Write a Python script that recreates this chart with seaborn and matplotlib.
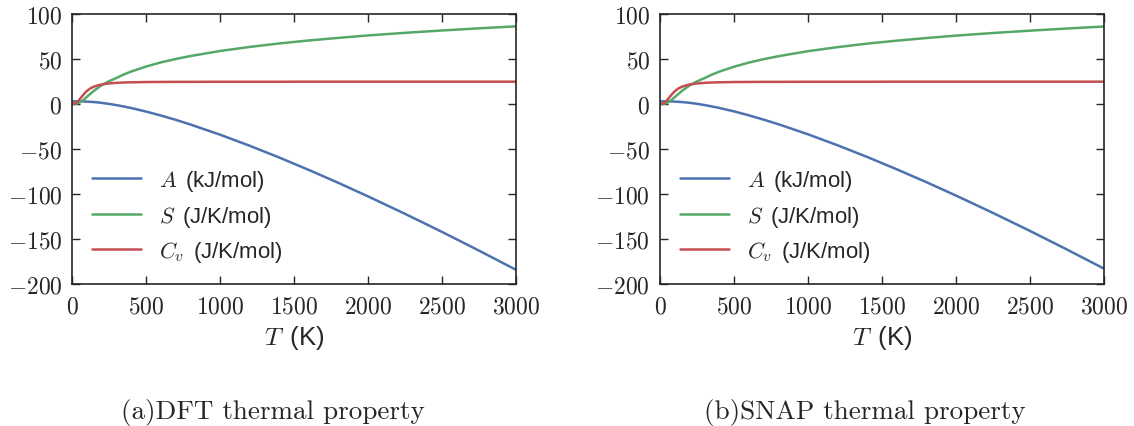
import matplotlib
matplotlib.use('Agg')
import matplotlib.pyplot as plt
import matplotlib.ticker as mticker
import seaborn as sns

# temperature grid (K)
T = [0, 20, 40, 60, 80, 100, 125, 150, 175, 200, 250, 300, 350, 400, 500, 600, 700, 800,
     1000, 1200, 1400, 1600, 1800, 2000, 2250, 2500, 2750, 3000]

# DFT
dft_A = [3.0, 3.0, 2.99, 2.96, 2.9, 2.75, 2.5, 2.2, 1.8, 1.35, 0.2, -1.15, -2.7, -4.4, -8.3, -12.7,
         -17.5, -22.7, -34.0, -46.3, -59.4, -73.2, -87.6, -102.6, -122.0, -142.1, -162.9, -184.2]
dft_S = [0.0, 0.1, 0.9, 2.5, 5.0, 8.0, 11.5, 15.0, 18.0, 21.0, 25.4, 29.0, 32.9, 36.2, 41.7, 46.3,
         50.1, 53.4, 59.0, 63.5, 67.4, 70.7, 73.6, 76.3, 79.2, 81.8, 84.2, 86.4]
dft_Cv = [0.0, 0.5, 3.0, 7.0, 11.0, 14.5, 17.5, 19.5, 20.8, 21.8, 23.0, 23.6, 24.0, 24.2, 24.5, 24.6,
          24.7, 24.7, 24.8, 24.8, 24.8, 24.9, 24.9, 24.9, 24.9, 24.9, 24.9, 24.9]

# SNAP
snap_A = [3.0, 3.0, 2.99, 2.96, 2.9, 2.76, 2.52, 2.22, 1.83, 1.4, 0.27, -1.05, -2.6, -4.3, -8.1, -12.5,
          -17.3, -22.4, -33.6, -45.8, -58.8, -72.5, -86.8, -101.7, -121.0, -141.0, -161.7, -182.9]
snap_S = [0.0, 0.1, 0.8, 2.4, 4.8, 7.8, 11.3, 14.8, 17.8, 20.8, 25.2, 28.8, 32.7, 36.0, 41.5, 46.1,
          49.9, 53.2, 58.8, 63.3, 67.2, 70.5, 73.4, 76.1, 79.0, 81.6, 84.0, 86.2]
snap_Cv = [0.0, 0.4, 2.8, 6.8, 10.8, 14.3, 17.4, 19.4, 20.7, 21.7, 22.9, 23.6, 24.0, 24.2, 24.5, 24.6,
           24.7, 24.7, 24.8, 24.8, 24.8, 24.9, 24.9, 24.9, 24.9, 24.9, 24.9, 24.9]

labels = [r'$A\,$ (kJ/mol)', r'$S\,$ (J/K/mol)', r'$C_v\,$ (J/K/mol)']
captions = ['(a)DFT thermal property', '(b)SNAP thermal property']

sns.set_style('ticks', {'xtick.direction': 'in', 'ytick.direction': 'in'})
plt.rcParams['font.family'] = ['Liberation Sans', 'DejaVu Sans']
plt.rcParams['mathtext.fontset'] = 'cm'
plt.rcParams['xtick.top'] = True
plt.rcParams['ytick.right'] = True
colors = ['#4C72B0', '#55A868', '#C44E52']  # old seaborn "deep"

fig = plt.figure(figsize=(11.34, 4.27), dpi=100)
ax1 = fig.add_axes([0.0635, 0.3326, 0.3915, 0.632])
ax2 = fig.add_axes([0.582, 0.3326, 0.3915, 0.632])

fmt = mticker.FuncFormatter(lambda v, p: f'${v:g}$')

for ax, data, cap, cx in [(ax1, (dft_A, dft_S, dft_Cv), captions[0], 0.241),
                          (ax2, (snap_A, snap_S, snap_Cv), captions[1], 0.763)]:
    for y, lab, c in zip(data, labels, colors):
        sns.lineplot(x=T, y=y, ax=ax, label=lab, color=c, linewidth=1.8)
    ax.set_xlim(0, 3000)
    ax.set_ylim(-200, 100)
    ax.set_xticks([0, 500, 1000, 1500, 2000, 2500, 3000])
    ax.set_yticks([-200, -150, -100, -50, 0, 50, 100])
    ax.xaxis.set_major_formatter(fmt)
    ax.yaxis.set_major_formatter(fmt)
    ax.tick_params(labelsize=17, length=6, width=1, colors='#262626')
    ax.tick_params(axis='x', pad=8)
    ax.tick_params(axis='y', pad=7)
    for s in ax.spines.values():
        s.set_color('#262626')
        s.set_linewidth(1.2)
    ax.set_xlabel(r'$T\,$ (K)', fontsize=18.5, labelpad=4)
    ax.legend(loc='lower left', bbox_to_anchor=(0.0, 0.0), frameon=False,
              fontsize=16, handlelength=2.2, labelspacing=0.47)
    fig.text(cx, 0.033, cap, family='cmr10', fontsize=19.5, ha='center', va='center')

fig.savefig('out.png', dpi=100)
